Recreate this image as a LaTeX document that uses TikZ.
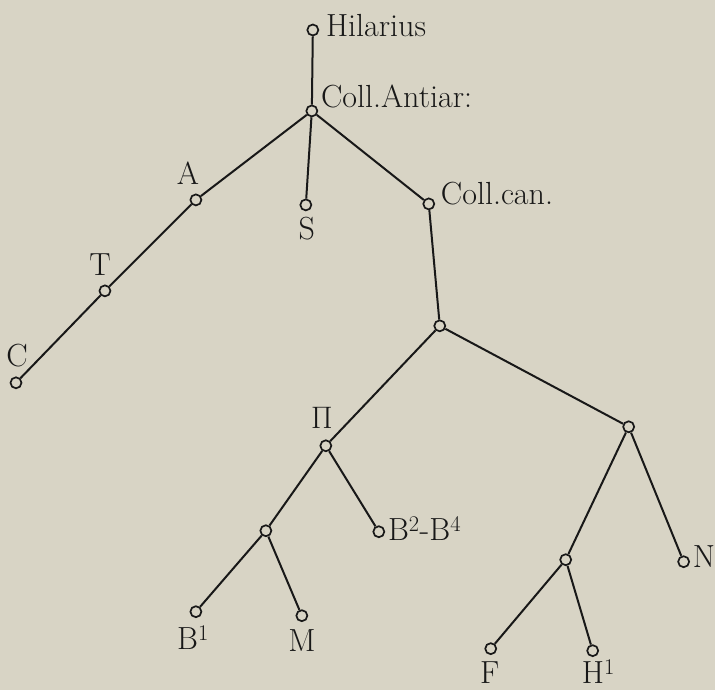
\documentclass[tikz,border=0pt]{standalone}
\usepackage{xcolor}
\usepackage{tikz}
\usetikzlibrary{positioning}
\definecolor{paper}{RGB}{216,212,197}
\definecolor{ink}{RGB}{24,24,24}

\begin{document}
\begin{tikzpicture}[
  x=1pt, y=-1pt,
  ms/.style={circle, draw=ink, fill=paper, line width=1.7pt, inner sep=0pt, minimum size=11pt},
  lbl/.style={inner sep=0pt, text=ink, font=\fontsize{32}{34}\selectfont},
  edge/.style={draw=ink, line width=2pt}
]
\fill[paper] (0,0) rectangle (715,690);

% manuscripts
\node[ms] (hil) at (313,30) {};
\node[ms] (antiar) at (312,111) {};
\node[ms] (a) at (196,200) {};
\node[ms] (s) at (306,205) {};
\node[ms] (can) at (429,204) {};
\node[ms] (t) at (105,291) {};
\node[ms] (c) at (16,383) {};
\node[ms] (mid) at (440,326) {};
\node[ms] (pi) at (326,446) {};
\node[ms] (rt) at (629,427) {};
\node[ms] (pisub) at (266,531) {};
\node[ms] (b24) at (379,532) {};
\node[ms] (b1) at (196,612) {};
\node[ms] (m) at (302,616) {};
\node[ms] (rsub) at (566,560) {};
\node[ms] (n) at (684,562) {};
\node[ms] (f) at (491,649) {};
\node[ms] (h1) at (593,651) {};

% sigla
\node[lbl, anchor=base west] (hiltxt) at (326,37) {Hilarius};
\node[lbl, anchor=base west] (antiartxt) at (321,108) {Coll.Antiar:};
\node[lbl, anchor=base west] (cantxt) at (441,205) {Coll.can.};
\node[lbl, anchor=base] (atxt) at (188,185) {A};
\node[lbl, anchor=base] (stxt) at (307,240) {S};
\node[lbl, anchor=base] (ttxt) at (100,276) {T};
\node[lbl, anchor=base] (ctxt) at (17,367) {C};
\node[lbl, anchor=base] (pitxt) at (322,429) {\scalebox{1.25}{$\Pi$}};
\node[lbl, anchor=base west] (b24txt) at (388,541) {B\textsuperscript{2}-B\textsuperscript{4}};
\node[lbl, anchor=base west] (b1txt) at (177,650) {B\textsuperscript{1}};
\node[lbl, anchor=base] (mtxt) at (302,652) {M};
\node[lbl, anchor=base west] (ntxt) at (693,568) {N};
\node[lbl, anchor=base] (ftxt) at (490,684) {F};
\node[lbl, anchor=base west] (h1txt) at (582,684) {H\textsuperscript{1}};

\draw[edge] (hil) -- (antiar);
\draw[edge] (antiar) -- (a);
\draw[edge] (antiar) -- (s);
\draw[edge] (antiar) -- (can);
\draw[edge] (a) -- (t);
\draw[edge] (t) -- (c);
\draw[edge] (can) -- (mid);
\draw[edge] (mid) -- (pi);
\draw[edge] (mid) -- (rt);
\draw[edge] (pi) -- (pisub);
\draw[edge] (pi) -- (b24);
\draw[edge] (pisub) -- (b1);
\draw[edge] (pisub) -- (m);
\draw[edge] (rt) -- (rsub);
\draw[edge] (rt) -- (n);
\draw[edge] (rsub) -- (f);
\draw[edge] (rsub) -- (h1);
\end{tikzpicture}
\end{document}
